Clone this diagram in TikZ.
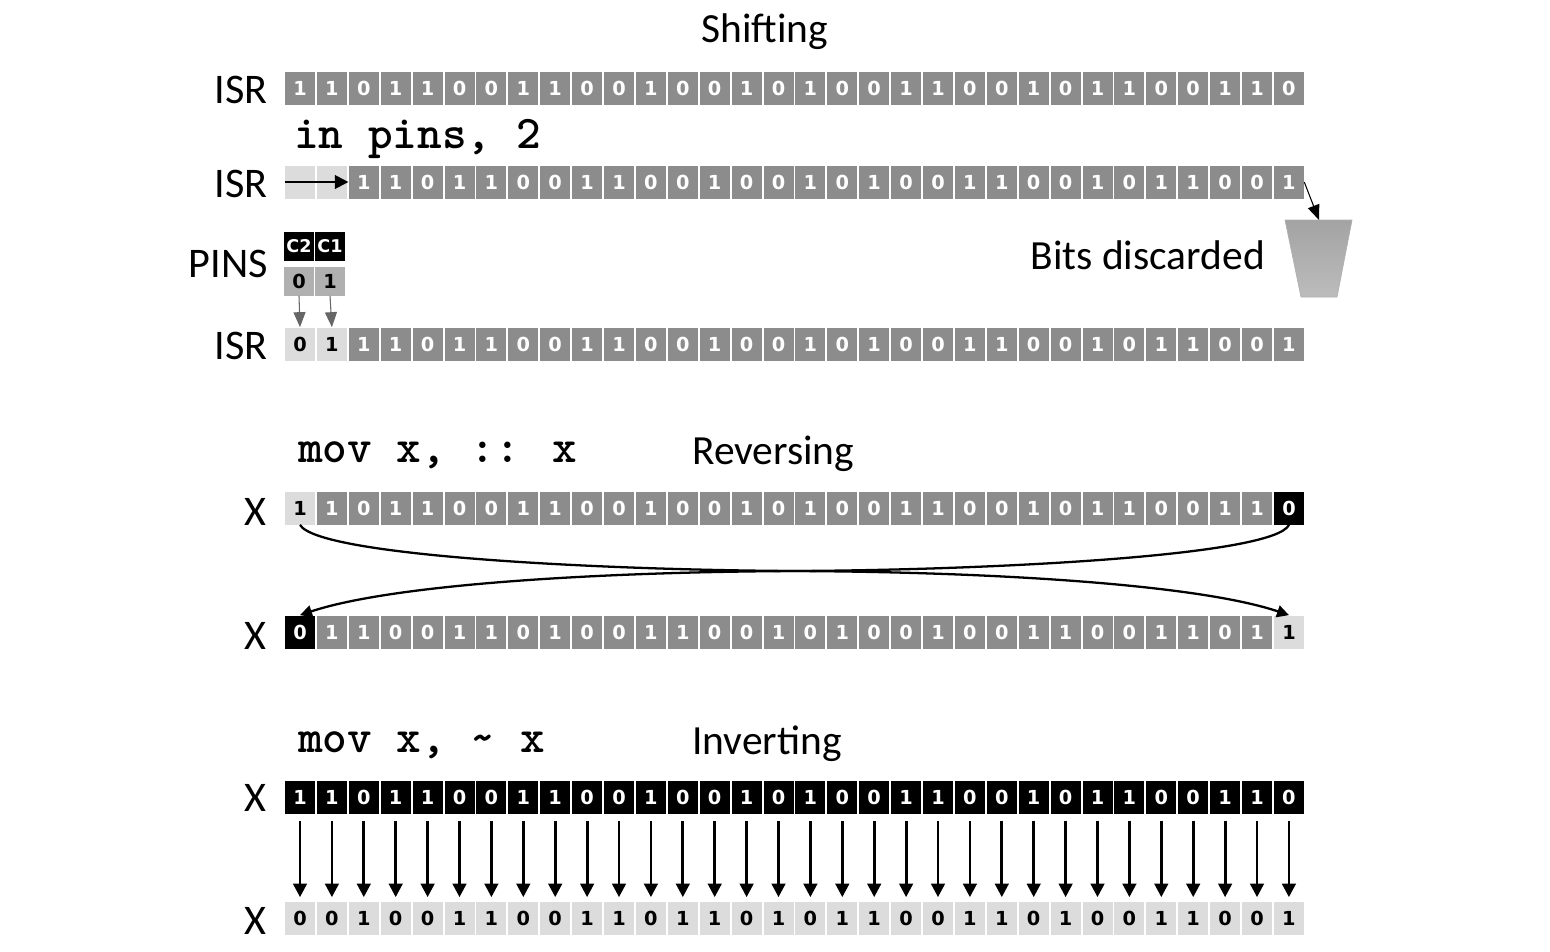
\documentclass[tikz,border=0pt]{standalone}
\usepackage{fontspec}
\setmainfont{Carlito}
\newfontfamily\bitfont{DejaVu Sans}[BoldFont={DejaVu Sans Bold}]
\usetikzlibrary{arrows.meta}
\definecolor{midgrey}{HTML}{8C8C8C}
\definecolor{pingrey}{HTML}{B0B0B0}
\definecolor{palegrey}{HTML}{DCDCDC}
\tikzset{
	cell/.style={minimum width=0.6cm,minimum height=0.66cm,inner sep=0pt,font=\bitfont\bfseries\fontsize{11}{13}\selectfont},
	greybit/.style={cell,fill=midgrey,text=white},
	darkbit/.style={cell,fill=black,text=white},
	palebit/.style={cell,fill=palegrey,text=black},
	pinbit/.style={cell,fill=pingrey,text=black,minimum height=0.58cm},
	pinname/.style={cell,fill=black,text=white,minimum height=0.58cm,font=\bitfont\bfseries\fontsize{10}{12}\selectfont},
	regname/.style={font=\fontsize{24}{28}\selectfont},
	heading/.style={font=\fontsize{23.6}{28}\selectfont},
	code/.style={font=\ttfamily\bfseries\fontsize{26.7}{30}\selectfont,anchor=west,inner sep=0pt},
	thick arrow/.style={-{Triangle[length=0.27cm,width=0.27cm]},line width=1.6pt},
	thin arrow/.style={-{Triangle[length=0.3cm,width=0.24cm]},line width=0.6pt},
}
\newcommand{\bitrow}[5]{
	\foreach \b [count=\i from #4] in {#5}
		\node[#3] (#1-\i) at ({300+(\i-1)*31.9},#2) {\b};
}
\begin{document}
\begin{tikzpicture}[x=0.02cm,y=-0.02cm]
	\useasboundingbox (0,0) rectangle (1550,951);
	\node[heading] (shifting) at (765,32) {Shifting};
	\node[regname,anchor=east] (isra) at (274,90) {ISR};
	\bitrow{rowa}{88}{greybit}{1}{1,1,0,1,1,0,0,1,1,0,0,1,0,0,1,0,1,0,0,1,1,0,0,1,0,1,1,0,0,1,1,0}
	\node[code] (inpins) at (294,139) {in pins, 2};
	\node[regname,anchor=east] (isrb) at (274,184) {ISR};
	\node[palebit] (rowb-1) at (300,182) {};
	\node[palebit] (rowb-2) at (331.9,182) {};
	\bitrow{rowb}{182}{greybit}{3}{1,1,0,1,1,0,0,1,1,0,0,1,0,0,1,0,1,0,0,1,1,0,0,1,0,1,1,0,0,1}
	\draw[thick arrow,line width=1.2pt] (rowb-1.west) -- (rowb-3.west);
	\node[regname,anchor=east] (pins) at (274,264) {PINS};
	\node[pinname] (ctwo) at (299,246) {C2};
	\node[pinname] (cone) at (330,246) {C1};
	\node[pinbit] (pintwo) at (299,281) {0};
	\node[pinbit] (pinone) at (330,281) {1};
	\node[heading,anchor=east] (discarded) at (1271,255) {Bits discarded};
	\coordinate (bucket) at (1319,220);
	\shade[top color=midgrey!80!white,bottom color=pingrey!85!white,draw=pingrey] (1285,220) -- (1352,220) -- (1337,297) -- (1301,297) -- cycle;
	\draw[thin arrow] (rowb-32.east) -- (bucket);
	\node[regname,anchor=east] (isrc) at (274,346) {ISR};
	\node[palebit] (rowc-1) at (300,344) {0};
	\node[palebit] (rowc-2) at (331.9,344) {1};
	\bitrow{rowc}{344}{greybit}{3}{1,1,0,1,1,0,0,1,1,0,0,1,0,0,1,0,1,0,0,1,1,0,0,1,0,1,1,0,0,1}
	\draw[thin arrow,draw=black!60,fill=black!60] (pintwo.south) -- (rowc-1.north);
	\draw[thin arrow,draw=black!60,fill=black!60] (pinone.south) -- (rowc-2.north);
	\node[code] (movswap) at (298,455) {mov x, :: x};
	\node[heading,anchor=west] (reversing) at (686,454) {Reversing};
	\node[regname] (xa) at (255,512) {X};
	\node[palebit] (rowd-1) at (300,508) {1};
	\bitrow{rowd}{508}{greybit}{2}{1,0,1,1,0,0,1,1,0,0,1,0,0,1,0,1,0,0,1,1,0,0,1,0,1,1,0,0,1,1}
	\node[darkbit] (rowd-32) at (1289,508) {0};
	\node[regname] (xb) at (255,636) {X};
	\node[darkbit] (rowe-1) at (300,632) {0};
	\bitrow{rowe}{632}{greybit}{2}{1,1,0,0,1,1,0,1,0,0,1,1,0,0,1,0,1,0,0,1,0,0,1,1,0,0,1,1,0,1}
	\node[palebit] (rowe-32) at (1289,632) {1};
	\coordinate (cross) at (795,571);
	\draw[line width=1.3pt,-{Triangle[length=0.24cm,width=0.24cm]}] (rowd-1.south) .. controls (318,556) and (600,570) .. (cross) .. controls (1000,572) and (1200,585) .. (rowe-32.north);
	\draw[line width=1.3pt,-{Triangle[length=0.24cm,width=0.24cm]}] (rowd-32.south) .. controls (1274,556) and (990,570) .. (cross) .. controls (590,572) and (390,585) .. (rowe-1.north);
	\node[code] (movinv) at (298,745) {mov x, \textasciitilde{} x};
	\node[heading,anchor=west] (inverting) at (686,744) {Inverting};
	\node[regname] (xc) at (255,798) {X};
	\bitrow{rowf}{797}{darkbit}{1}{1,1,0,1,1,0,0,1,1,0,0,1,0,0,1,0,1,0,0,1,1,0,0,1,0,1,1,0,0,1,1,0}
	\node[regname] (xd) at (255,921) {X};
	\bitrow{rowg}{918}{palebit}{1}{0,0,1,0,0,1,1,0,0,1,1,0,1,1,0,1,0,1,1,0,0,1,1,0,1,0,0,1,1,0,0,1}
	\foreach \i in {1,...,32}
		\draw[thick arrow,shorten <=0.14cm,shorten >=0.08cm] (rowf-\i.south) -- (rowg-\i.north);
\end{tikzpicture}
\end{document}
